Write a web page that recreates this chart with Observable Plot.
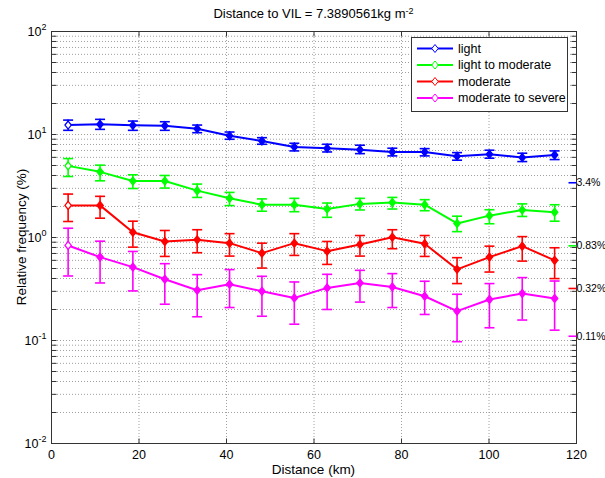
<!DOCTYPE html>
<html><head><meta charset="utf-8">
<script src="https://cdn.jsdelivr.net/npm/d3@7"></script>
<script src="https://cdn.jsdelivr.net/npm/@observablehq/plot@0.6"></script>
<style>
body{margin:0;background:#fff}
#chart svg{font-family:"Liberation Sans",Arial,Helvetica,sans-serif;display:block}
</style>
</head><body><div id="chart"></div>
<script>
// ---- data ----
const distance = [3.8, 11.1, 18.6, 25.9, 33.3, 40.7, 48.1, 55.5, 63.0, 70.5, 77.9, 85.3, 92.7, 100.1, 107.6, 115.0];
const seriesNames = ["light", "light to moderate", "moderate", "moderate to severe"];
const seriesColors = ["#0000ff", "#00ff00", "#ff0000", "#ff00ff"];

const lightVal  = [12.35, 12.55, 12.27, 12.16, 11.38, 9.74, 8.65, 7.57, 7.36, 7.13, 6.77, 6.77, 6.16, 6.44, 5.97, 6.34];
const lightLow  = [10.98, 11.22, 10.98, 10.98, 10.41, 8.99, 8.04, 6.93, 6.77, 6.52, 6.20, 6.20, 5.63, 5.89, 5.46, 5.71];
const lightHigh = [13.80, 14.03, 13.50, 13.30, 12.35, 10.57, 9.31, 8.22, 8.04, 7.87, 7.36, 7.29, 6.67, 7.04, 6.58, 6.93];

const l2mVal  = [4.96, 4.34, 3.53, 3.53, 2.85, 2.40, 2.08, 2.08, 1.89, 2.12, 2.19, 2.08, 1.37, 1.63, 1.85, 1.76];
const l2mLow  = [3.91, 3.55, 2.99, 3.02, 2.45, 2.04, 1.80, 1.78, 1.57, 1.85, 1.89, 1.82, 1.14, 1.36, 1.60, 1.44];
const l2mHigh = [5.84, 5.04, 4.06, 4.00, 3.30, 2.74, 2.37, 2.40, 2.16, 2.40, 2.45, 2.33, 1.61, 1.86, 2.12, 2.08];

const modVal  = [2.05, 2.05, 1.125, 0.915, 0.950, 0.881, 0.705, 0.881, 0.737, 0.856, 1.007, 0.869, 0.491, 0.645, 0.824, 0.600];
const modLow  = [1.43, 1.54, 0.806, 0.655, 0.712, 0.660, 0.505, 0.670, 0.548, 0.660, 0.778, 0.655, 0.357, 0.462, 0.590, 0.399];
const modHigh = [2.64, 2.51, 1.44, 1.17, 1.19, 1.09, 0.881, 1.09, 0.915, 1.045, 1.19, 1.045, 0.637, 0.824, 1.02, 0.795];

const m2sVal  = [0.837, 0.645, 0.516, 0.393, 0.308, 0.351, 0.301, 0.259, 0.324, 0.362, 0.331, 0.269, 0.193, 0.250, 0.286, 0.256];
const m2sLow  = [0.423, 0.362, 0.303, 0.225, 0.170, 0.209, 0.172, 0.144, 0.200, 0.236, 0.209, 0.179, 0.0974, 0.133, 0.158, 0.126];
const m2sHigh = [1.23, 0.921, 0.732, 0.557, 0.436, 0.488, 0.420, 0.370, 0.439, 0.480, 0.446, 0.376, 0.281, 0.357, 0.408, 0.378];

const refValues = [3.4, 0.83, 0.32, 0.11];
const refLabels = ["3.4%", "0.83%", "0.32%", "0.11%"];

const xTicks = [0, 20, 40, 60, 80, 100, 120];
const yTicks = [0.01, 0.1, 1, 10, 100];

const titleText = "Distance to VIL = 7.3890561kg m";
const titleSup = "-2";
const xLabel = "Distance (km)";
const yLabel = "Relative frequency (%)";

// ---- build table ----
const allVals = [lightVal, l2mVal, modVal, m2sVal];
const allLow = [lightLow, l2mLow, modLow, m2sLow];
const allHigh = [lightHigh, l2mHigh, modHigh, m2sHigh];
const rows = [];
seriesNames.forEach((s, k) => {
  distance.forEach((x, i) => {
    rows.push({series: s, x, value: allVals[k][i], low: allLow[k][i], high: allHigh[k][i], first: i === 0});
  });
});
const colorOf = Object.fromEntries(seriesNames.map((s, k) => [s, seriesColors[k]]));

const minorY = [];
for (let e = -2; e <= 1; e++) for (let m = 1; m <= 9; m++) minorY.push(m * Math.pow(10, e));
minorY.push(100);
const gridYVals = minorY.filter(v => v > 0.0101 && v < 99);

// ---- custom symbols ----
const capSym = {draw(ctx) { ctx.moveTo(-5, 0); ctx.lineTo(5, 0); }};
const diamondSym = {draw(ctx) { ctx.moveTo(0, -4); ctx.lineTo(3.2, 0); ctx.lineTo(0, 4); ctx.lineTo(-3.2, 0); ctx.closePath(); }};
const tickRightward = {draw(ctx) { ctx.moveTo(0, 0); ctx.lineTo(5, 0); }};
const tickLeftward = {draw(ctx) { ctx.moveTo(0, 0); ctx.lineTo(-5, 0); }};
const tickUp = {draw(ctx) { ctx.moveTo(0, 0); ctx.lineTo(0, -5); }};
const tickDown = {draw(ctx) { ctx.moveTo(0, 0); ctx.lineTo(0, 5); }};
const refDash = {draw(ctx) { ctx.moveTo(0, 0); ctx.lineTo(-8, 0); }};

const W = 605, H = 478;
const mL = 51, mR = 29, mT = 31, mB = 35;
const axisColor = "#333";
const font = '"Liberation Sans",Arial,Helvetica,sans-serif';
const gridStyle = {stroke: "#888", strokeOpacity: 1, strokeWidth: 0.8, strokeDasharray: "1,2"};

const chart = Plot.plot({
  width: W, height: H,
  marginLeft: mL, marginRight: mR, marginTop: mT, marginBottom: mB,
  style: {fontFamily: font, fontSize: "12.5px", background: "white", color: "black", overflow: "visible"},
  x: {domain: [0, 120]},
  y: {type: "log", domain: [0.01, 100]},
  marks: [
    Plot.gridX(xTicks.filter(v => v > 0 && v < 120), gridStyle),
    Plot.gridY(gridYVals, gridStyle),
    // inward ticks
    Plot.dot(minorY, {y: d => d, frameAnchor: "left", symbol: tickRightward, stroke: axisColor, strokeWidth: 1}),
    Plot.dot(minorY, {y: d => d, frameAnchor: "right", symbol: tickLeftward, stroke: axisColor, strokeWidth: 1}),
    Plot.dot(xTicks, {x: d => d, frameAnchor: "bottom", symbol: tickUp, stroke: axisColor, strokeWidth: 1}),
    Plot.dot(xTicks, {x: d => d, frameAnchor: "top", symbol: tickDown, stroke: axisColor, strokeWidth: 1}),
    Plot.frame({stroke: axisColor, strokeWidth: 1}),
    Plot.axisX(xTicks, {tickSize: 0, tickPadding: 7, label: null, fontSize: 12.5}),
    Plot.axisY(yTicks, {tickSize: 0, tickPadding: 5, label: null, fontSize: 12.5, tickFormat: d => "10^" + Math.round(Math.log10(d))}),
    // error bars
    Plot.ruleX(rows, {x: "x", y1: "low", y2: "high", stroke: d => colorOf[d.series], strokeWidth: 1.6}),
    Plot.dot(rows, {x: "x", y: "low", symbol: capSym, stroke: d => colorOf[d.series], strokeWidth: 1.6}),
    Plot.dot(rows, {x: "x", y: "high", symbol: capSym, stroke: d => colorOf[d.series], strokeWidth: 1.6}),
    // lines
    Plot.line(rows, {x: "x", y: "value", z: "series", stroke: d => colorOf[d.series], strokeWidth: 2}),
    Plot.dot(rows, {x: "x", y: "value", symbol: diamondSym, stroke: d => colorOf[d.series], fill: d => d.first ? "white" : colorOf[d.series], strokeWidth: 1.3}),
    // right-side reference labels
    Plot.dot(refValues, {y: d => d, frameAnchor: "right", symbol: refDash, stroke: (d, i) => seriesColors[i], strokeWidth: 1.6}),
    Plot.text(refValues, {y: d => d, frameAnchor: "right", text: (d, i) => refLabels[i], textAnchor: "start", dx: 0, fontSize: 10.5, fill: "black"})
  ]
});

document.getElementById("chart").appendChild(chart);
const svg = d3.select(chart);

// superscript exponents on y tick labels
svg.selectAll('g[aria-label="y-axis tick label"] text').each(function() {
  const t = d3.select(this);
  const parts = t.text().split("^");
  t.text(null);
  t.append("tspan").text(parts[0]);
  t.append("tspan").attr("dy", "-0.6em").attr("font-size", "9px").text(parts[1]);
});

const cx = (mL + (W - mR)) / 2;
// title
const title = svg.append("text").attr("x", cx).attr("y", 18).attr("text-anchor", "middle")
  .attr("font-size", "13px").attr("fill", "black");
title.append("tspan").text(titleText);
title.append("tspan").attr("dy", "-0.5em").attr("font-size", "9px").text(titleSup);
// axis labels
svg.append("text").attr("x", cx).attr("y", 474).attr("text-anchor", "middle").attr("font-size", "13.5px").attr("fill", "black").text(xLabel);
svg.append("text").attr("transform", `translate(26,${(mT + H - mB) / 2}) rotate(-90)`).attr("text-anchor", "middle").attr("font-size", "13.5px").attr("fill", "black").text(yLabel);

// legend
const lg = svg.append("g");
lg.append("rect").attr("x", 411.5).attr("y", 37.5).attr("width", 156).attr("height", 74).attr("fill", "white").attr("stroke", axisColor);
seriesNames.forEach((s, k) => {
  const y = 48.5 + k * 16.5;
  lg.append("line").attr("x1", 417).attr("x2", 453).attr("y1", y).attr("y2", y).attr("stroke", seriesColors[k]).attr("stroke-width", 2);
  lg.append("path").attr("d", `M435,${y - 4}L438.2,${y}L435,${y + 4}L431.8,${y}Z`).attr("fill", "white").attr("stroke", seriesColors[k]).attr("stroke-width", 1);
  lg.append("text").attr("x", 458).attr("y", y).attr("dy", "0.35em").attr("text-anchor", "start").attr("font-size", "12.5px").attr("fill", "black").text(s);
});
</script>
</body></html>
